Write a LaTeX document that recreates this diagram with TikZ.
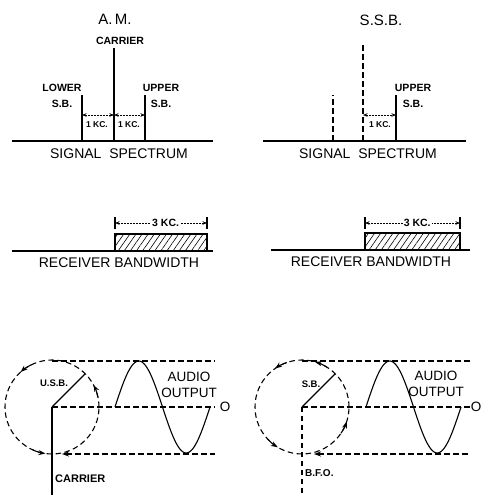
\documentclass[tikz,border=0pt]{standalone}
\usepackage{fontspec}
\setmainfont{Liberation Sans}
\usetikzlibrary{arrows.meta,positioning,patterns.meta}

\begin{document}
\begin{tikzpicture}[
  x=1pt,y=1pt,
  ttl/.style={font=\fontsize{15}{16}\selectfont},
  capt/.style={font=\fontsize{14}{15}\selectfont,inner sep=1pt},
  big/.style={font=\fontsize{13.5}{16}\selectfont,align=center,inner sep=1pt},
  lbl/.style={font=\fontsize{10.5}{16}\selectfont\bfseries,align=center,inner sep=1pt},
  sml/.style={font=\fontsize{8.5}{9}\selectfont\bfseries,inner sep=1pt},
  solidln/.style={line width=1.1pt},
  dashln/.style={line width=1.1pt,dash pattern=on 5.5pt off 3.5pt},
  dimln/.style={line width=0.6pt,dash pattern=on 2pt off 1pt,
                {Stealth[length=4.5pt,width=3.5pt]}-{Stealth[length=4.5pt,width=3.5pt]}},
  rotarrow/.style={line width=1.1pt,-{Stealth[length=7pt,width=5pt]}},
  backarrow/.style={line width=1.1pt,{Stealth[length=7pt,width=5pt]}-},
  band/.style={draw,line width=1.1pt,
               pattern={Lines[angle=55,distance=5pt,line width=0.6pt]}}
]
\useasboundingbox (0,0) rectangle (486,498);

% ---- A.M. signal spectrum
\node[ttl] (amttl) at (115,479) {A.\,M.};
\coordinate (ambl) at (12,357);
\coordinate (ambr) at (213,357);
\coordinate (lsb) at (82,357);
\coordinate (lsbtop) at (82,403);
\coordinate (car) at (114,357);
\coordinate (cartop) at (114,450);
\coordinate (usb) at (145,357);
\coordinate (usbtop) at (145,403);
\coordinate (kc) at (0,383);
\draw[solidln] (ambl) -- (ambr);
\draw[solidln] (lsb) -- (lsbtop);
\draw[solidln] (car) -- (cartop);
\draw[solidln] (usb) -- (usbtop);
\node[lbl] (carlbl) at (120,457) {CARRIER};
\node[lbl] (lowerlbl) at (62,402) {LOWER\\S.B.};
\node[lbl] (upperlbl) at (161,402) {UPPER\\S.B.};
\draw[dimln] (lsb |- kc) -- (car |- kc);
\draw[dimln] (car |- kc) -- (usb |- kc);
\node[sml] (kcl) at (97,373) {1 KC.};
\node[sml] (kcr) at (129,373) {1 KC.};
\node[capt] (amspec) at (119,344) {SIGNAL\ \ SPECTRUM};

% ---- S.S.B. signal spectrum
\node[ttl] (ssbttl) at (381,478) {S.S.B.};
\coordinate (ssbbl) at (263,357);
\coordinate (ssbbr) at (466,357);
\coordinate (slsb) at (333,357);
\coordinate (slsbtop) at (333,403);
\coordinate (scar) at (363,357);
\coordinate (scartop) at (363,453);
\coordinate (susb) at (396,357);
\coordinate (susbtop) at (396,403);
\draw[solidln] (ssbbl) -- (ssbbr);
\draw[dashln] (slsb) -- (slsbtop);
\draw[dashln] (scar) -- (scartop);
\draw[solidln] (susb) -- (susbtop);
\node[lbl] (supperlbl) at (413,402) {UPPER\\S.B.};
\draw[dimln] (scar |- kc) -- (susb |- kc);
\node[sml] (skc) at (380,373) {1 KC.};
\node[capt] (ssbspec) at (368,344) {SIGNAL\ \ SPECTRUM};

% ---- receiver bandwidth, A.M.
\coordinate (rbl) at (12,247);
\coordinate (rbr) at (213,247);
\coordinate (rlo) at (115,247);
\coordinate (rhi) at (207,264);
\coordinate (rb1) at (115,275);
\coordinate (rb2) at (207,275);
\draw[solidln] (rbl) -- (rbr);
\draw[band] (rlo) rectangle (rhi);
\draw[solidln] ([yshift=-6pt]rb1) -- ([yshift=6pt]rb1);
\draw[solidln] ([yshift=-6pt]rb2) -- ([yshift=6pt]rb2);
\draw[dimln] (rb1) -- node[lbl,fill=white,pos=0.55] (rbkc) {3 KC.} (rb2);
\node[capt] (ambw) at (119,235) {RECEIVER BANDWIDTH};

% ---- receiver bandwidth, S.S.B.
\coordinate (sbl) at (271,248);
\coordinate (sbr) at (470,248);
\coordinate (slo) at (365,248);
\coordinate (shi) at (460,265);
\coordinate (sb1) at (365,275);
\coordinate (sb2) at (460,275);
\draw[solidln] (sbl) -- (sbr);
\draw[band] (slo) rectangle (shi);
\draw[solidln] ([yshift=-6pt]sb1) -- ([yshift=6pt]sb1);
\draw[solidln] ([yshift=-6pt]sb2) -- ([yshift=6pt]sb2);
\draw[dimln] (sb1) -- node[lbl,fill=white,pos=0.55] (sbkc) {3 KC.} (sb2);
\node[capt] (ssbbw) at (371,236) {RECEIVER BANDWIDTH};

% ---- A.M. vectors and audio output
\coordinate (amc) at (52,91);
\coordinate (amhi) at (52,137);
\coordinate (amlo) at (62,44);
\coordinate (amend) at (215,91);
\coordinate (amfoot) at (52,3);
\draw[dashln] (amc) circle[radius=47];
\draw[rotarrow] ([shift={(116:47)}]amc) arc[start angle=116,end angle=132,radius=47];
\draw[rotarrow] ([shift={(246:47)}]amc) arc[start angle=246,end angle=262,radius=47];
\draw[rotarrow] ([shift={(12:47)}]amc) arc[start angle=12,end angle=28,radius=47];
\draw[solidln] (amc) -- ([shift={(45:47)}]amc) coordinate (amvec);
\draw[solidln] (amc) -- (amfoot);
\draw[dashln] (amhi) -- (amhi -| amend);
\draw[dashln] (amc) -- (amend);
\draw[dashln,backarrow] (amlo) -- (amlo -| amend);
\draw[solidln] plot[domain=0:95,samples=60,smooth] ({115+\x},{91+46*sin(3.78947*\x)});
\node[lbl,font=\fontsize{9.5}{10}\selectfont\bfseries] (usblbl) at (54,115) {U.S.B.};
\node[big] (amaudio) at (189,113) {AUDIO\\OUTPUT};
\node[big] (amzero) at (225,91) {O};
\node[lbl,anchor=west,font=\fontsize{11}{12}\selectfont\bfseries] (amcar) at (54,19) {CARRIER};

% ---- S.S.B. vectors and audio output
\coordinate (ssc) at (302,91);
\coordinate (sshi) at (302,137);
\coordinate (sslo) at (314,44);
\coordinate (ssend) at (470,91);
\coordinate (ssfoot) at (302,3);
\draw[dashln] (ssc) circle[radius=47];
\draw[rotarrow] ([shift={(58:47)}]ssc) arc[start angle=58,end angle=74,radius=47];
\draw[rotarrow] ([shift={(109:47)}]ssc) arc[start angle=109,end angle=125,radius=47];
\draw[rotarrow] ([shift={(223:47)}]ssc) arc[start angle=223,end angle=239,radius=47];
\draw[rotarrow] ([shift={(326:47)}]ssc) arc[start angle=326,end angle=342,radius=47];
\draw[solidln] (ssc) -- ([shift={(45:47)}]ssc) coordinate (ssvec);
\draw[dashln] (ssc) -- (ssfoot);
\draw[dashln] (sshi) -- (sshi -| ssend);
\draw[dashln] (ssc) -- (ssend);
\draw[dashln,backarrow] (sslo) -- (sslo -| ssend);
\draw[solidln] plot[domain=0:95,samples=60,smooth] ({366+\x},{91+46*sin(3.78947*\x)});
\node[lbl,font=\fontsize{9.5}{10}\selectfont\bfseries] (sblbl) at (311,114) {S.B.};
\node[big] (ssaudio) at (436,114) {AUDIO\\OUTPUT};
\node[big] (sszero) at (476,91) {O};
\node[lbl,anchor=west,font=\fontsize{10}{11}\selectfont\bfseries] (ssbfo) at (304,25) {B.F.O.};
\end{tikzpicture}
\end{document}
